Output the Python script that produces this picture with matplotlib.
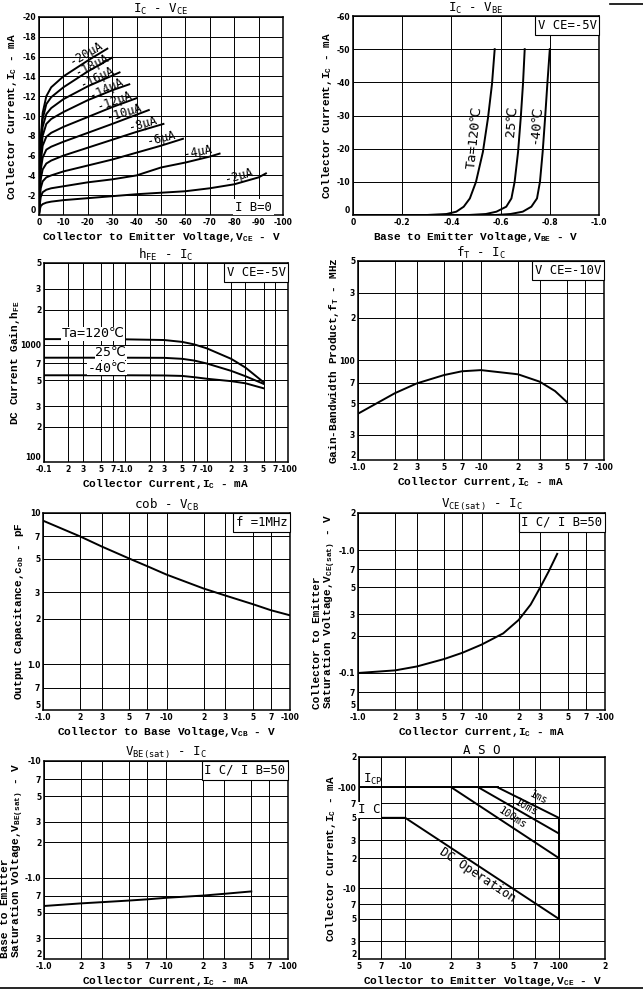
import matplotlib.pyplot as plt
from matplotlib.lines import Line2D

# ---------------- data (magnitudes, PNP signs are shown on tick labels) ----------------
# Ic - Vce family, one curve per base current
vce_ib2 = [0, 0.3, 0.7, 1.5, 3, 5, 10, 20, 30, 40, 50, 60, 70, 80, 90, 93]
ic_ib2 = [0, 0.5, 0.9, 1.1, 1.25, 1.35, 1.5, 1.7, 1.9, 2.1, 2.25, 2.4, 2.7, 3.1, 3.8, 4.2]
vce_ib4 = [0, 0.3, 0.7, 1.5, 3, 5, 10, 20, 30, 40, 50, 60, 70, 74]
ic_ib4 = [0, 1.0, 1.8, 2.3, 2.55, 2.7, 2.9, 3.3, 3.6, 4.0, 4.8, 5.3, 5.9, 6.2]
vce_ib6 = [0, 0.3, 0.7, 1.5, 3, 5, 10, 20, 30, 40, 50, 59]
ic_ib6 = [0, 1.5, 2.7, 3.4, 3.8, 4.0, 4.4, 5.0, 5.6, 6.3, 7.0, 7.7]
vce_ib8 = [0, 0.3, 0.7, 1.5, 3, 5, 10, 20, 30, 40, 51]
ic_ib8 = [0, 2.0, 3.6, 4.6, 5.2, 5.5, 6.0, 6.8, 7.6, 8.4, 9.2]
vce_ib10 = [0, 0.3, 0.7, 1.5, 3, 5, 10, 20, 30, 45]
ic_ib10 = [0, 2.5, 4.5, 5.8, 6.6, 6.9, 7.4, 8.3, 9.2, 10.6]
vce_ib12 = [0, 0.3, 0.7, 1.5, 3, 5, 10, 20, 30, 40]
ic_ib12 = [0, 3.0, 5.3, 7.0, 7.9, 8.3, 8.9, 9.9, 10.9, 11.8]
vce_ib14 = [0, 0.3, 0.7, 1.5, 3, 5, 10, 20, 30, 37]
ic_ib14 = [0, 3.4, 6.0, 8.0, 9.2, 9.7, 10.4, 11.6, 12.6, 13.2]
vce_ib16 = [0, 0.3, 0.7, 1.5, 3, 5, 10, 20, 33]
ic_ib16 = [0, 3.8, 6.6, 8.9, 10.2, 10.8, 11.7, 13.0, 14.4]
vce_ib18 = [0, 0.3, 0.7, 1.5, 3, 5, 10, 20, 30]
ic_ib18 = [0, 4.1, 7.2, 9.7, 11.2, 11.9, 12.9, 14.5, 15.9]
vce_ib20 = [0, 0.3, 0.7, 1.5, 3, 5, 10, 20, 28]
ic_ib20 = [0, 4.4, 7.7, 10.3, 12.0, 12.9, 14.0, 15.6, 16.8]
ib_labels = ['-2μA', '-4μA', '-6μA', '-8μA', '-10μA', '-12μA', '-14μA', '-16μA', '-18μA', '-20μA']

# Ic - Vbe for three ambient temperatures
vbe_120 = [0, 0.30, 0.38, 0.42, 0.45, 0.475, 0.50, 0.528, 0.549, 0.565, 0.576]
vbe_25 = [0, 0.47, 0.54, 0.583, 0.623, 0.644, 0.657, 0.671, 0.682, 0.691, 0.698]
vbe_m40 = [0, 0.58, 0.64, 0.69, 0.725, 0.748, 0.76, 0.771, 0.781, 0.79, 0.80]
ic_vbe = [0, 0, 0.3, 1.0, 2.5, 5, 10, 19, 29.4, 39.5, 50]

# hFE - Ic
hfe_ic = [0.1, 0.3, 1, 3, 5, 7, 10, 20, 30, 50]
hfe_120 = [1120, 1120, 1115, 1100, 1060, 1010, 935, 760, 640, 480]
hfe_25 = [777, 777, 777, 775, 760, 735, 694, 600, 540, 465]
hfe_m40 = [550, 550, 550, 548, 543, 530, 514, 490, 470, 426]

# fT - Ic
ft_ic = [1, 2, 3, 5, 7, 10, 20, 30, 40, 50]
ft_mhz = [42.3, 59, 69, 79, 84, 85.6, 80, 71, 61, 51]

# cob - Vcb
cob_vcb = [1, 2, 3, 5, 7, 10, 20, 30, 50, 70, 100]
cob_pf = [8.9, 7.0, 6.0, 5.0, 4.45, 3.92, 3.17, 2.85, 2.5, 2.28, 2.11]

# Vce(sat) - Ic
vcesat_ic = [1, 2, 3, 5, 7, 10, 15, 20, 25, 30, 35, 41]
vcesat_v = [0.1, 0.105, 0.113, 0.13, 0.146, 0.17, 0.21, 0.27, 0.36, 0.5, 0.67, 0.93]

# Vbe(sat) - Ic
vbesat_ic = [1, 2, 3, 5, 7, 10, 20, 30, 50]
vbesat_v = [0.57, 0.60, 0.615, 0.635, 0.65, 0.67, 0.70, 0.725, 0.76]

# ASO
aso_dc_v = [5, 10, 100]
aso_dc_i = [50, 50, 5]
aso_icp_v = [5, 40]
aso_icp_i = [100, 100]
aso_100ms_v = [20, 100]
aso_100ms_i = [100, 20]
aso_10ms_v = [30, 100]
aso_10ms_i = [100, 35]
aso_1ms_v = [40, 100]
aso_1ms_i = [100, 50]
aso_vceo_v = [100, 100]
aso_vceo_i = [5, 50]

# log tick labels
dec_1_100 = [1, 2, 3, 5, 7, 10, 20, 30, 50, 70, 100]
dec_1_100_lab = ['-1.0', '2', '3', '5', '7', '-10', '2', '3', '5', '7', '-100']

# ---------------- styling ----------------
plt.rcParams['mathtext.fontset'] = 'custom'
plt.rcParams['mathtext.rm'] = 'DejaVu Sans Mono'
plt.rcParams['mathtext.bf'] = 'Liberation Mono:bold'

MONO = ['DejaVu Sans Mono', 'DejaVu Sans']
LAB = dict(family='Liberation Mono', weight='bold', size=8)
TICKFAM = ['Liberation Sans Narrow', 'DejaVu Sans']
LW = 1.4

W, H = 643, 991
fig = plt.figure(figsize=(W / 100, H / 100), dpi=100)


def add_ax(x0, y0, x1, y1):
    return fig.add_axes([x0 / W, 1 - y1 / H, (x1 - x0) / W, (y1 - y0) / H])


def finish(ax, title, xlabel, ylabel, ylab_x, xpad=2, title_pad=2):
    for s in ax.spines.values():
        s.set_linewidth(1.1)
    ax.minorticks_off()
    ax.grid(True, which='major', color='black', linewidth=0.7)
    ax.tick_params(which='both', length=0, pad=2, labelsize=5.5)
    for t in ax.get_xticklabels() + ax.get_yticklabels():
        t.set_fontfamily(TICKFAM)
        t.set_fontweight('bold')
    # lowest y label sits just above the corner so it clears the first x label
    ax.get_yticklabels()[0].set_verticalalignment('bottom')
    ax.set_title(title, family=MONO, fontsize=9, pad=title_pad)
    ax.set_xlabel(xlabel, fontdict=LAB, labelpad=xpad)
    # y label placed at a fixed pixel column, centred on the axes
    pos = ax.get_position()
    fig.text(ylab_x / W, pos.y0 + pos.height / 2, ylabel, rotation=90, ha='center',
             va='center', multialignment='left', linespacing=0.9, **LAB)


def cond_box(ax, text):
    ax.text(0.99, 0.985, text, transform=ax.transAxes, ha='right', va='top',
            family=MONO, fontsize=8.8,
            bbox=dict(boxstyle='square,pad=0.22', fc='white', ec='black', lw=0.8))


def log_axes(ax, xt, xl, yt, yl):
    ax.set_xscale('log')
    ax.set_yscale('log')
    ax.set_xlim(xt[0], xt[-1])
    ax.set_ylim(yt[0], yt[-1])
    ax.set_xticks(xt, xl)
    ax.set_yticks(yt, yl)


# ---- 1: Ic - Vce ----
ax1 = add_ax(39, 17, 283, 215)
curves = [(vce_ib2, ic_ib2), (vce_ib4, ic_ib4), (vce_ib6, ic_ib6), (vce_ib8, ic_ib8),
          (vce_ib10, ic_ib10), (vce_ib12, ic_ib12), (vce_ib14, ic_ib14),
          (vce_ib16, ic_ib16), (vce_ib18, ic_ib18), (vce_ib20, ic_ib20)]
for v, i in curves:
    ax1.plot(v, i, color='black', lw=LW)
ax1.set_xlim(0, 100)
ax1.set_ylim(0, 20)
ax1.set_xticks(range(0, 101, 10), ['0'] + [f'-{k}' for k in range(10, 101, 10)])
ax1.set_yticks(range(0, 21, 2), ['0'] + [f'-{k}' for k in range(2, 21, 2)])
lab_pos = [(82, 4.0, 16), (65, 6.4, 11), (50, 7.8, 14), (42.5, 9.2, 16), (35, 10.3, 17),
           (31, 11.5, 20), (27.5, 12.75, 25), (24, 13.9, 26), (21.6, 15.15, 27),
           (19.3, 16.35, 30)]
for txt, (x, y, r) in zip(ib_labels, lab_pos):
    ax1.text(x, y, txt, rotation=r, ha='center', va='center', family=MONO, fontsize=8.5,
             rotation_mode='anchor')
ax1.text(88, 0.8, 'I B=0', ha='center', va='center', family=MONO, fontsize=8.8,
         bbox=dict(boxstyle='square,pad=0.15', fc='white', ec='none'))
finish(ax1, 'I$_\\mathrm{C}$ - V$_\\mathrm{CE}$',
       'Collector to Emitter Voltage,V$_\\mathbf{CE}$ - V',
       'Collector Current,I$_\\mathbf{C}$ - mA', 12)

# ---- 2: Ic - Vbe ----
ax2 = add_ax(353, 16, 599, 215)
for v in (vbe_120, vbe_25, vbe_m40):
    ax2.plot(v, ic_vbe, color='black', lw=LW)
ax2.set_xlim(0, 1.0)
ax2.set_ylim(0, 60)
ax2.set_xticks([0, 0.2, 0.4, 0.6, 0.8, 1.0], ['0', '-0.2', '-0.4', '-0.6', '-0.8', '-1.0'])
ax2.set_yticks(range(0, 61, 10), ['0'] + [f'-{k}' for k in range(10, 61, 10)])
ax2.text(0.495, 23.3, 'Ta=120℃', rotation=84, ha='center', va='center', family=MONO,
         fontsize=9.5, rotation_mode='anchor')
ax2.text(0.644, 28.2, '25℃', rotation=85, ha='center', va='center', family=MONO,
         fontsize=9.5, rotation_mode='anchor')
ax2.text(0.742, 27.4, '-40℃', rotation=85, ha='center', va='center', family=MONO,
         fontsize=9.5, rotation_mode='anchor')
cond_box(ax2, 'V CE=-5V')
finish(ax2, 'I$_\\mathrm{C}$ - V$_\\mathrm{BE}$',
       'Base to Emitter Voltage,V$_\\mathbf{BE}$ - V',
       'Collector Current,I$_\\mathbf{C}$ - mA', 327)

# ---- 3: hFE - Ic ----
ax3 = add_ax(44, 263, 288, 462)
for h in (hfe_120, hfe_25, hfe_m40):
    ax3.plot(hfe_ic, h, color='black', lw=LW)
log_axes(ax3,
         [0.1, 0.2, 0.3, 0.5, 0.7] + dec_1_100,
         ['-0.1', '2', '3', '5', '7'] + dec_1_100_lab,
         [100, 200, 300, 500, 700, 1000, 2000, 3000, 5000],
         ['100', '2', '3', '5', '7', '1000', '2', '3', '5'])
for x, y, t in [(0.40, 1240, 'Ta=120℃'), (0.66, 855, '25℃'), (0.59, 635, '-40℃')]:
    ax3.text(x, y, t, ha='center', va='center', family=MONO, fontsize=9.5,
             bbox=dict(boxstyle='square,pad=0.05', fc='white', ec='none'))
cond_box(ax3, 'V CE=-5V')
finish(ax3, 'h$_\\mathrm{FE}$ - I$_\\mathrm{C}$',
       'Collector Current,I$_\\mathbf{C}$ - mA',
       'DC Current Gain,h$_\\mathbf{FE}$', 15)

# ---- 4: fT - Ic ----
ax4 = add_ax(358, 261, 604, 460)
ax4.plot(ft_ic, ft_mhz, color='black', lw=LW)
log_axes(ax4, dec_1_100, dec_1_100_lab,
         [20, 30, 50, 70, 100, 200, 300, 500],
         ['2', '3', '5', '7', '100', '2', '3', '5'])
cond_box(ax4, 'V CE=-10V')
finish(ax4, 'f$_\\mathrm{T}$ - I$_\\mathrm{C}$',
       'Collector Current,I$_\\mathbf{C}$ - mA',
       'Gain-Bandwidth Product,f$_\\mathbf{T}$ - MHz', 334)

# ---- 5: cob - Vcb ----
ax5 = add_ax(43, 513, 290, 710)
ax5.plot(cob_vcb, cob_pf, color='black', lw=LW)
log_axes(ax5, dec_1_100, dec_1_100_lab,
         [0.5, 0.7, 1.0, 2, 3, 5, 7, 10],
         ['5', '7', '1.0', '2', '3', '5', '7', '10'])
cond_box(ax5, 'f =1MHz')
finish(ax5, 'cob - V$_\\mathrm{CB}$',
       'Collector to Base Voltage,V$_\\mathbf{CB}$ - V',
       'Output Capacitance,c$_\\mathbf{ob}$ - pF', 19)

# ---- 6: Vce(sat) - Ic ----
ax6 = add_ax(358, 513, 605, 710)
ax6.plot(vcesat_ic, vcesat_v, color='black', lw=LW)
log_axes(ax6, dec_1_100, dec_1_100_lab,
         [0.05, 0.07, 0.1, 0.2, 0.3, 0.5, 0.7, 1.0, 2.0],
         ['5', '7', '-0.1', '2', '3', '5', '7', '-1.0', '2'])
cond_box(ax6, 'I C/ I B=50')
finish(ax6, 'V$_\\mathrm{CE(sat)}$ - I$_\\mathrm{C}$',
       'Collector Current,I$_\\mathbf{C}$ - mA',
       'Collector to Emitter\nSaturation Voltage,V$_\\mathbf{CE(sat)}$ - V', 325)

# ---- 7: Vbe(sat) - Ic ----
ax7 = add_ax(44, 761, 288, 959)
ax7.plot(vbesat_ic, vbesat_v, color='black', lw=LW)
log_axes(ax7, dec_1_100, dec_1_100_lab,
         [0.2, 0.3, 0.5, 0.7, 1.0, 2, 3, 5, 7, 10],
         ['2', '3', '5', '7', '-1.0', '2', '3', '5', '7', '-10'])
cond_box(ax7, 'I C/ I B=50')
finish(ax7, 'V$_\\mathrm{BE(sat)}$ - I$_\\mathrm{C}$',
       'Collector Current,I$_\\mathbf{C}$ - mA',
       'Base to Emitter\nSaturation Voltage,V$_\\mathbf{BE(sat)}$ - V', 13)

# ---- 8: ASO ----
ax8 = add_ax(359, 757, 605, 959)
for v, i in [(aso_dc_v, aso_dc_i), (aso_icp_v, aso_icp_i), (aso_100ms_v, aso_100ms_i),
             (aso_10ms_v, aso_10ms_i), (aso_1ms_v, aso_1ms_i), (aso_vceo_v, aso_vceo_i)]:
    ax8.plot(v, i, color='black', lw=LW)
log_axes(ax8, [5, 7, 10, 20, 30, 50, 70, 100, 200],
         ['5', '7', '-10', '2', '3', '5', '7', '-100', '2'],
         [2, 3, 5, 7, 10, 20, 30, 50, 70, 100, 200],
         ['2', '3', '5', '7', '-10', '2', '3', '5', '7', '-100', '2'])
ax8.text(6.2, 121, 'I$_\\mathrm{CP}$', ha='center', va='center', family=MONO, fontsize=9)
ax8.text(5.8, 60, 'I C', ha='center', va='center', family=MONO, fontsize=9,
         bbox=dict(boxstyle='square,pad=0.1', fc='white', ec='none'))
ax8.text(74, 80, '1ms', rotation=-27, ha='center', va='center', family=MONO,
         fontsize=7.5, rotation_mode='anchor')
ax8.text(61, 64, '10ms', rotation=-29, ha='center', va='center', family=MONO,
         fontsize=7.5, rotation_mode='anchor')
ax8.text(50.3, 50, '100ms', rotation=-33, ha='center', va='center', family=MONO,
         fontsize=7.5, rotation_mode='anchor')
ax8.text(29.5, 13.6, 'DC Operation', rotation=-33.5, ha='center', va='center',
         family=MONO, fontsize=8.8, rotation_mode='anchor')
finish(ax8, 'A S O',
       'Collector to Emitter Voltage,V$_\\mathbf{CE}$ - V',
       'Collector Current,I$_\\mathbf{C}$ - mA', 331)

# page rules
fig.add_artist(Line2D([0, 1], [1 - 988 / H] * 2, color='black', lw=1.2))
fig.add_artist(Line2D([610 / W, 1], [1 - 4 / H] * 2, color='black', lw=1.2))

fig.savefig('out.png', dpi=100)
